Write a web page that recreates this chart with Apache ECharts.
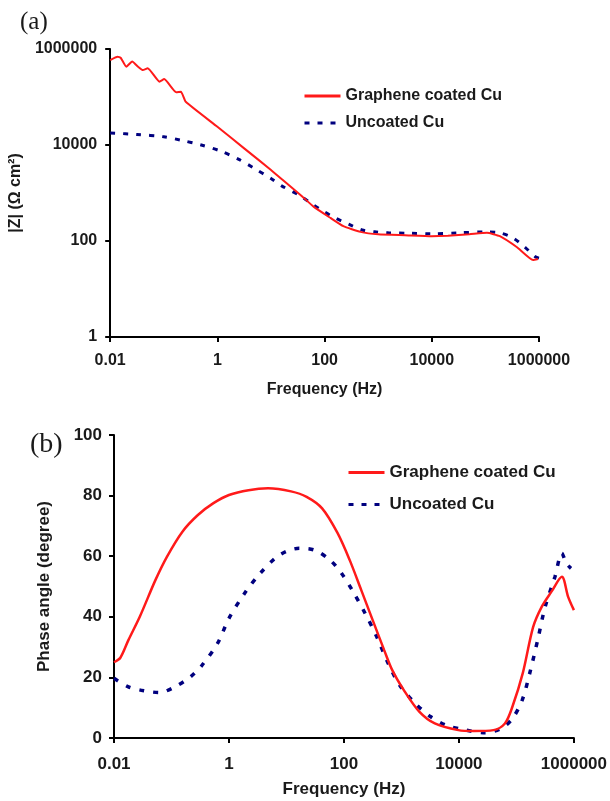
<!DOCTYPE html>
<html>
<head>
<meta charset="utf-8">
<script src="https://cdn.jsdelivr.net/npm/echarts@6/dist/echarts.min.js"></script>
<style>html,body{margin:0;padding:0;background:#fff}#c{width:610px;height:801px}</style>
</head>
<body>
<div id="c"></div>
<script>
// ---- Data ----
const seriesNames = ['Graphene coated Cu', 'Uncoated Cu'];
const xTickLabels = ['0.01', '1', '100', '10000', '1000000'];
const zTickLabels = ['1', '100', '10000', '1000000'];

// (a) |Z| vs frequency
const zGrapheneFreq = [0.01, 0.0138, 0.0158, 0.02, 0.0257, 0.0331, 0.0407, 0.0501, 0.0832, 0.102, 0.17, 0.209, 0.257, 1, 3.16, 10, 15.8, 35.5, 63.1, 129, 224, 468, 1000, 3160, 10000, 20000, 50100, 107000, 186000, 389000, 776000, 955000];
const zGrapheneVal  = [589000, 692000, 650000, 427000, 550000, 427000, 363000, 398000, 209000, 237000, 126000, 129000, 79400, 24000, 8510, 3020, 1950, 912, 513, 302, 204, 155, 138, 132, 126, 129, 138, 148, 126, 74, 40, 42];
const zUncoatedFreq = [0.01, 0.0316, 0.1, 0.209, 0.501, 1.17, 2.51, 4.79, 10, 15.8, 35.5, 55, 91.2, 158, 282, 501, 891, 1550, 3980, 10000, 31600, 107000, 186000, 331000, 550000, 851000, 1000000];
const zUncoatedVal  = [17800, 16600, 14800, 12600, 10000, 7410, 5010, 3310, 2000, 1410, 871, 617, 427, 302, 224, 170, 155, 148, 145, 141, 148, 155, 148, 115, 74, 47, 44];

// (b) phase angle vs frequency
const pGrapheneFreq = [0.01, 0.0129, 0.0178, 0.0282, 0.0525, 0.0832, 0.155, 0.288, 0.537, 1, 2.19, 4.79, 12.0, 22.4, 41.7, 77.6, 126, 200, 316, 501, 692, 1100, 2040, 3800, 9770, 18200, 39800, 63100, 85100, 129000, 195000, 275000, 407000, 617000, 794000, 1000000];
const pGrapheneVal  = [25, 26.5, 32.3, 40.1, 52.1, 59.8, 68.1, 73.6, 77.5, 80.2, 81.8, 82.4, 81.4, 79.6, 75.8, 67.6, 58.7, 48.8, 38.9, 29.0, 22.4, 15.8, 8.7, 4.8, 2.6, 2.3, 2.6, 4.8, 10.3, 21.4, 36.6, 43.3, 48.3, 53.2, 46.6, 42.2];
const pUncoatedFreq = [0.01, 0.0178, 0.0331, 0.0617, 0.115, 0.214, 0.339, 0.631, 1, 1.86, 3.47, 7.59, 16.6, 30.9, 57.5, 91.2, 145, 234, 372, 589, 933, 1740, 3240, 6030, 13200, 28800, 53700, 85100, 126000, 170000, 234000, 316000, 468000, 617000, 741000, 891000];
const pUncoatedVal  = [19.7, 16.9, 15.6, 15.0, 16.9, 20.2, 24.0, 31.2, 39.5, 47.7, 54.3, 60.4, 62.6, 62.0, 58.7, 54.3, 48.2, 41.1, 33.4, 24.6, 17.4, 11.4, 7.0, 4.2, 2.6, 1.7, 3.1, 6.4, 12.5, 21.3, 32.3, 43.3, 53.2, 61, 57.6, 56];

function pairs(xs, ys) { return xs.map((x, i) => [x, ys[i]]); }
function fmt(v) { return String(+(+v).toPrecision(6)); }

const RED = '#ff1a1a', BLUE = '#00007f', TXT = '#1a1a1a';
const FF = 'Liberation Sans, Arial, sans-serif';

const chart = echarts.init(document.getElementById('c'), null, {renderer: 'canvas'});

function xAxisDef(gridIndex, fs, margin, gap) {
  return {
    type: 'log', logBase: 100, gridIndex, min: 0.01, max: 1000000,
    name: 'Frequency (Hz)', nameLocation: 'middle', nameGap: gap,
    nameTextStyle: {fontFamily: FF, fontWeight: 'bold', fontSize: fs, color: TXT},
    axisLine: {onZero: false, lineStyle: {color: '#000', width: 2}},
    axisTick: {show: true, length: 5, lineStyle: {color: '#000', width: 2}},
    minorTick: {show: false},
    splitLine: {show: false},
    axisLabel: {fontFamily: FF, fontWeight: 'bold', fontSize: fs, color: TXT, margin,
      formatter: v => { const s = fmt(v); return xTickLabels.includes(s) ? s : ''; }}
  };
}

function legendDef(left, top, fs, gap) {
  return {
    data: seriesNames, orient: 'vertical', left, top,
    itemWidth: 36, itemHeight: 14, itemGap: gap, selectedMode: false,
    itemStyle: {opacity: 0},
    lineStyle: {width: 3},
    textStyle: {fontFamily: FF, fontWeight: 'bold', fontSize: fs, color: TXT}
  };
}

const option = {
  backgroundColor: '#fff',
  animation: false,
  grid: [
    {left: 109, width: 430, top: 49, height: 288},
    {left: 114, width: 460, top: 435, height: 303}
  ],
  xAxis: [xAxisDef(0, 16, 16, 45), xAxisDef(1, 17, 18, 43)],
  yAxis: [
    {
      type: 'log', logBase: 100, gridIndex: 0, min: 1, max: 1000000,
      name: '|Z| (Ω cm²)', nameLocation: 'middle', nameGap: 76, nameRotate: 90,
      nameTextStyle: {fontFamily: FF, fontWeight: 'bold', fontSize: 16, color: TXT},
      axisLine: {lineStyle: {color: '#000', width: 2}},
      axisTick: {show: true, length: 5, lineStyle: {color: '#000', width: 2}},
      splitLine: {show: false},
      axisLabel: {fontFamily: FF, fontWeight: 'bold', fontSize: 16, color: TXT, margin: 13,
        formatter: v => { const s = fmt(v); return zTickLabels.includes(s) ? s : ''; }}
    },
    {
      type: 'value', gridIndex: 1, min: 0, max: 100, interval: 20,
      name: 'Phase angle (degree)', nameLocation: 'middle', nameGap: 61, nameRotate: 90,
      nameTextStyle: {fontFamily: FF, fontWeight: 'bold', fontSize: 17, color: TXT},
      axisLine: {lineStyle: {color: '#000', width: 2}},
      axisTick: {show: true, length: 5, lineStyle: {color: '#000', width: 2}},
      splitLine: {show: false},
      axisLabel: {fontFamily: FF, fontWeight: 'bold', fontSize: 17, color: TXT, margin: 12}
    }
  ],
  legend: [legendDef(298, 83, 16, 11), legendDef(342, 459, 17, 15)],
  graphic: [
    {type: 'text', left: 20, top: 10, style: {text: '(a)', font: '25px "Liberation Serif", "DejaVu Serif", serif', fill: TXT}},
    {type: 'text', left: 30, top: 431, style: {text: '(b)', font: '28px "Liberation Serif", "DejaVu Serif", serif', fill: TXT}}
  ],
  series: [
    {name: seriesNames[0], type: 'line', xAxisIndex: 0, yAxisIndex: 0, symbol: 'none', smooth: 0.15,
     data: pairs(zGrapheneFreq, zGrapheneVal), lineStyle: {color: RED, width: 2}, itemStyle: {color: RED}, z: 3},
    {name: seriesNames[1], type: 'line', xAxisIndex: 0, yAxisIndex: 0, symbol: 'none', smooth: 0.3,
     data: pairs(zUncoatedFreq, zUncoatedVal), lineStyle: {color: BLUE, width: 3, type: [5, 8]}, itemStyle: {color: BLUE}, z: 2},
    {name: seriesNames[0], type: 'line', xAxisIndex: 1, yAxisIndex: 1, symbol: 'none', smooth: 0.3,
     data: pairs(pGrapheneFreq, pGrapheneVal), lineStyle: {color: RED, width: 2.5}, itemStyle: {color: RED}, z: 3},
    {name: seriesNames[1], type: 'line', xAxisIndex: 1, yAxisIndex: 1, symbol: 'none', smooth: 0.3,
     data: pairs(pUncoatedFreq, pUncoatedVal), lineStyle: {color: BLUE, width: 3.5, type: [5, 9]}, itemStyle: {color: BLUE}, z: 2}
  ]
};
chart.setOption(option);
</script>
</body>
</html>
